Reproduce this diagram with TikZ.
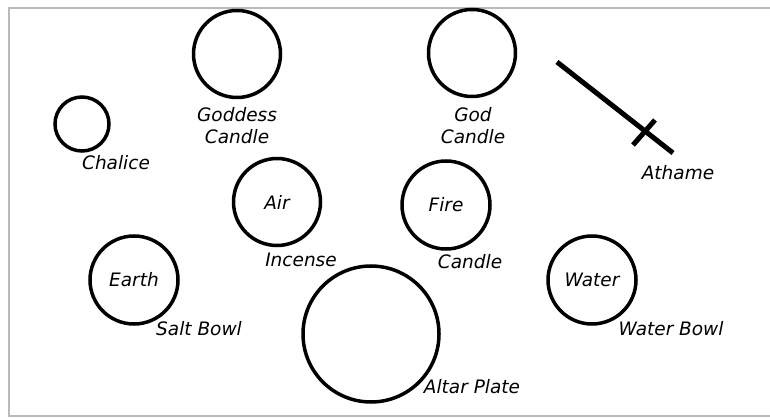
\documentclass[tikz,border=0pt]{standalone}
\usepackage{fontspec}
\setmainfont{DejaVu Sans}
\begin{document}
\begin{tikzpicture}[x=1pt, y=-1pt, font=\fontsize{18.5}{22}\selectfont\itshape]
  \tikzset{
    vessel/.style={draw, circle, line width=3.5pt, inner sep=0pt},
    tag/.style={align=center, inner sep=0pt}
  }
  \useasboundingbox (0,0) rectangle (770,419);
  % === Frame ===
  \draw[gray!55, line width=1.5pt] (772,8) -- (9,8) -- (9,416) -- (772,416);
  % === Candles ===
  \node[vessel, minimum size=87pt] (goddess) at (237,54) {};
  \node[tag] (goddesslbl) at (237,126) {Goddess\\Candle};
  \node[vessel, minimum size=87pt] (god) at (472,53) {};
  \node[tag] (godlbl) at (473,126) {God\\Candle};
  % === Chalice ===
  \node[vessel, minimum size=54pt] (chalice) at (82,124) {};
  \node[tag] (chalicelbl) at (116,163) {Chalice};
  % === Athame ===
  \coordinate (hilt) at (557,62);
  \coordinate (tip) at (673,153);
  \coordinate (guardA) at (633,145);
  \coordinate (guardB) at (655,120);
  \draw[line width=5pt] (hilt) -- (tip);
  \draw[line width=5pt] (guardA) -- (guardB);
  \node[tag] (athamelbl) at (678,173) {Athame};
  % === Elements ===
  \node[vessel, minimum size=87pt] (air) at (277,202) {Air};
  \node[tag] (airlbl) at (301,260) {Incense};
  \node[vessel, minimum size=88pt] (fire) at (446,205) {Fire};
  \node[tag] (firelbl) at (470,262) {Candle};
  \node[vessel, minimum size=88pt] (earth) at (134,280) {Earth};
  \node[tag] (earthlbl) at (199,329) {Salt Bowl};
  \node[vessel, minimum size=88pt] (water) at (592,280) {Water};
  \node[tag] (waterlbl) at (671,329) {Water Bowl};
  % === Altar Plate ===
  \node[vessel, minimum size=136pt] (plate) at (371,334) {};
  \node[tag] (platelbl) at (472,387) {Altar Plate};
\end{tikzpicture}
\end{document}
